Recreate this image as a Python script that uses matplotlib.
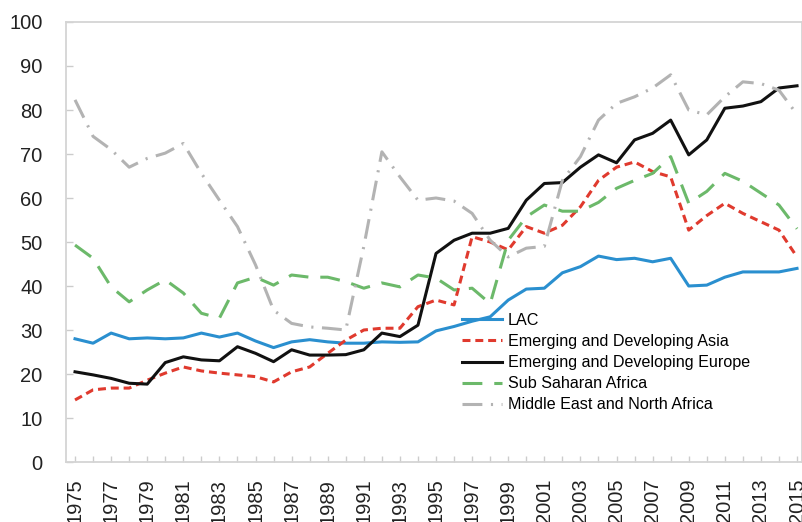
import matplotlib
matplotlib.use("Agg")
import matplotlib.pyplot as plt

plt.rcParams["font.family"] = ["Liberation Sans", "DejaVu Sans"]

years = list(range(1975, 2016))

lac = [28.0, 27.0, 29.3, 28.0, 28.2, 28.0, 28.2, 29.3, 28.4, 29.3,
       27.5, 26.0, 27.3, 27.8, 27.3, 27.0, 27.0, 27.3, 27.2, 27.3,
       29.8, 30.8, 32.0, 33.0, 36.8, 39.3, 39.5, 43.0, 44.4, 46.8,
       46.0, 46.3, 45.5, 46.3, 40.0, 40.2, 42.0, 43.2, 43.2, 43.2,
       44.0]
asia = [14.1, 16.4, 16.8, 16.8, 18.6, 20.2, 21.6, 20.7, 20.2, 19.8,
        19.4, 18.2, 20.5, 21.6, 24.7, 27.7, 30.0, 30.4, 30.4, 35.3,
        36.8, 35.7, 51.2, 50.0, 48.2, 53.5, 52.0, 53.8, 58.0, 64.0,
        67.0, 68.2, 66.0, 64.8, 52.7, 56.0, 58.8, 56.5, 54.6, 52.7,
        46.6]
europe = [20.5, 19.8, 19.0, 17.9, 17.7, 22.6, 23.9, 23.2, 23.0, 26.2,
          24.7, 22.8, 25.5, 24.3, 24.3, 24.4, 25.5, 29.3, 28.5, 31.1,
          47.4, 50.4, 52.0, 52.0, 53.1, 59.5, 63.3, 63.5, 67.0, 69.8,
          68.0, 73.2, 74.7, 77.7, 69.8, 73.2, 80.4, 80.9, 81.9, 85.0,
          85.5]
ssa = [49.3, 46.3, 39.8, 36.4, 39.1, 41.4, 38.4, 33.8, 32.7, 40.7,
       42.0, 40.2, 42.5, 42.0, 42.0, 41.0, 39.5, 40.7, 39.8, 42.5,
       41.8, 39.1, 39.5, 36.0, 50.4, 55.7, 58.4, 57.0, 57.0, 59.0,
       62.2, 64.0, 65.6, 69.4, 58.8, 61.5, 65.6, 63.8, 61.1, 58.4,
       53.0]
mena = [82.3, 74.0, 71.0, 67.0, 69.0, 70.2, 72.4, 65.6, 59.5, 53.5,
        44.8, 34.5, 31.5, 30.7, 30.4, 30.0, 49.0, 70.5, 64.8, 59.5,
        60.0, 59.3, 56.5, 50.4, 46.6, 48.6, 49.0, 64.0, 69.4, 77.7,
        81.5, 83.0, 85.0, 88.0, 80.0, 78.9, 83.0, 86.4, 86.0, 84.5,
        79.0]

yticks = list(range(0, 101, 10))
xtick_labels = [str(y) for y in years[::2]]

fig = plt.figure(figsize=(8.02, 5.22), dpi=100)
ax = fig.add_axes([66 / 802, 1 - 462 / 522, 1 - 66 / 802, (462 - 22) / 522])

lw = 2.2
ax.plot(years, lac, color="#2a8fcf", lw=lw, label="LAC")
ax.plot(years, asia, color="#e03a2e", lw=lw, dashes=(2.6, 1.6),
        dash_capstyle="butt", label="Emerging and Developing Asia")
ax.plot(years, europe, color="#111111", lw=lw,
        label="Emerging and Developing Europe")
ax.plot(years, ssa, color="#6cb96a", lw=lw, dashes=(6.5, 3.9),
        dash_capstyle="butt", label="Sub Saharan Africa")
ax.plot(years, mena, color="#b3b3b3", lw=lw, dashes=(6.5, 2.8, 0.7, 2.8),
        dash_capstyle="butt", label="Middle East and North Africa")

# x range runs a little past 2015 so the last label sits at the edge
ax.set_xlim(1974.5, 1974.5 + (802 - 66) / 18.05)
ax.set_ylim(0, 100)
ax.set_yticks(yticks)
ax.set_xticks(years, minor=True)
ax.set_xticks(years[::2])
ax.set_xticklabels(xtick_labels, rotation=90)

for spine in ax.spines.values():
    spine.set_color("#d4d4d4")
    spine.set_linewidth(1.3)

ax.tick_params(axis="both", which="both", direction="in", color="#cccccc",
               width=1.0, labelcolor="#222222", labelsize=14.5)
ax.tick_params(axis="y", length=5, pad=17)
ax.tick_params(axis="x", which="both", length=4, pad=12)

ax.legend(loc="upper left", bbox_to_anchor=(462 / 802, 1 - 313 / 522),
          bbox_transform=fig.transFigure, frameon=False, fontsize=11.6,
          handlelength=2.5, handletextpad=0.35, labelspacing=0.38,
          borderpad=0, borderaxespad=0)

fig.savefig("out.png", dpi=100, facecolor="white")
